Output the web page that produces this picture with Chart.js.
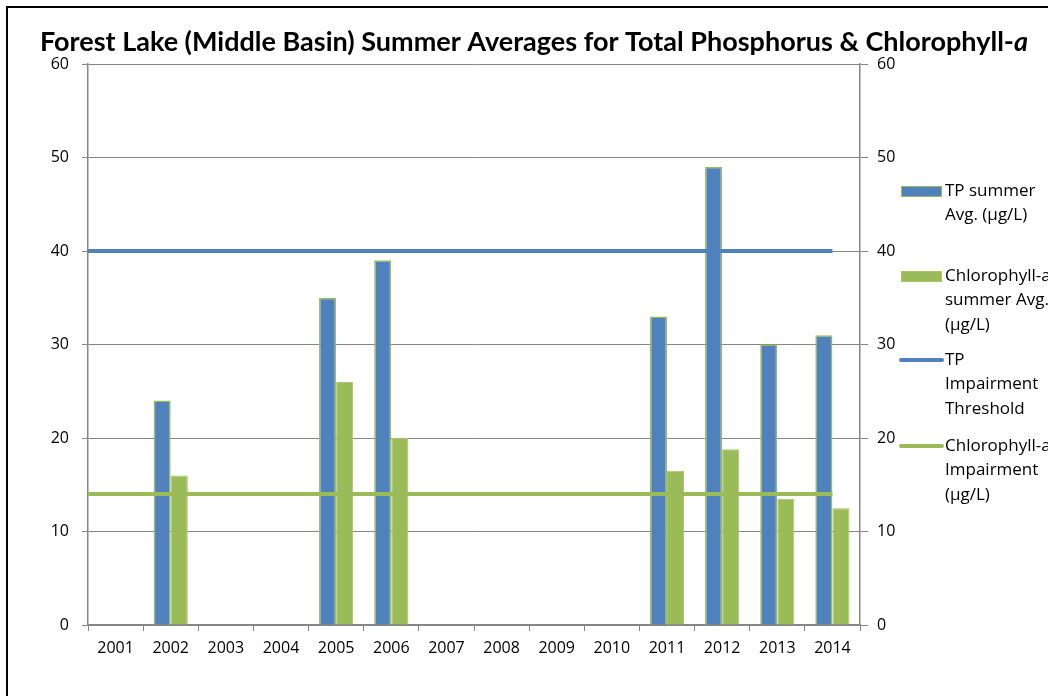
<!DOCTYPE html>
<html>
<head>
<meta charset="utf-8">
<script src="https://cdn.jsdelivr.net/npm/chart.js@4/dist/chart.umd.min.js"></script>
<style>
    html, body { margin: 0; padding: 0; background: #ffffff; }
    #wrap { width: 1048px; height: 696px; }
</style>
</head>
<body>
<div id="wrap"><canvas id="grafico" width="1048" height="696"></canvas></div>
<script>
const anos = ["2001", "2002", "2003", "2004", "2005", "2006", "2007", "2008", "2009", "2010", "2011", "2012", "2013", "2014"];
const tpMedia = [null, 24, null, null, 35, 39, null, null, null, null, 33, 49, 30, 31];
const chlMedia = [null, 16, null, null, 26, 20, null, null, null, null, 16.5, 18.8, 13.5, 12.5];
const limiteTP = 40;
const limiteChl = 14;
const eixoMin = 0;
const eixoMax = 60;
const eixoPasso = 10;

const tituloTexto = "Forest Lake (Middle Basin) Summer Averages for Total Phosphorus & Chlorophyll-";
const tituloItalico = "a";
const legendaTextos = [
    ["TP summer", "Avg. (µg/L)"],
    ["Chlorophyll-a", "summer Avg.", "(µg/L)"],
    ["TP", "Impairment", "Threshold"],
    ["Chlorophyll-a", "Impairment", "(µg/L)"]
];

const AZUL = "#4f81bd";
const VERDE = "#9bbb59";
const CINZA = "#868686";
const FONTE = "'Open Sans', sans-serif";

// linha de limite: da borda do eixo (indice -0.5) ate o centro da ultima categoria
const linhaLimite = valor => [
    { x: -0.5, y: valor },
    { x: anos.length - 1, y: valor }
];

const molduraPlugin = {
    id: "moldura",
    afterDraw(chart) {
        const { ctx, chartArea } = chart;
        ctx.save();

        // moldura preta (so esquerda e topo aparecem)
        ctx.strokeStyle = "#000000";
        ctx.lineWidth = 2;
        ctx.beginPath();
        ctx.moveTo(7, 700);
        ctx.lineTo(7, 7);
        ctx.lineTo(1050, 7);
        ctx.stroke();

        // titulo
        ctx.fillStyle = "#000000";
        ctx.textBaseline = "alphabetic";
        const fonteTitulo = "bold 27px Lato, sans-serif";
        const fonteItalico = "italic bold 27px Lato, sans-serif";
        ctx.font = fonteTitulo;
        const w1 = ctx.measureText(tituloTexto).width;
        ctx.font = fonteItalico;
        const w2 = ctx.measureText(tituloItalico).width;
        const x0 = 534 - (w1 + w2) / 2;
        ctx.font = fonteTitulo;
        ctx.fillText(tituloTexto, x0, 51);
        ctx.font = fonteItalico;
        ctx.fillText(tituloItalico, x0 + w1, 51);

        // legenda
        const itensY = [191, 276, 360, 446];
        const lx = chartArea.right + 41;
        ctx.font = "17px " + FONTE;
        ctx.textBaseline = "middle";
        chart.data.datasets.forEach((ds, i) => {
            const y = itensY[i];
            if (ds.type === "line") {
                ctx.strokeStyle = ds.borderColor;
                ctx.lineWidth = 4;
                ctx.lineCap = "round";
                ctx.beginPath();
                ctx.moveTo(lx, y);
                ctx.lineTo(lx + 41, y);
                ctx.stroke();
            } else {
                ctx.fillStyle = ds.backgroundColor;
                ctx.fillRect(lx, y - 5, 41, 11);
                ctx.strokeStyle = ds.borderColor;
                ctx.lineWidth = 1;
                ctx.strokeRect(lx + 0.5, y - 4.5, 40, 10);
            }
            ctx.fillStyle = "#000000";
            legendaTextos[i].forEach((t, k) => {
                ctx.fillText(t, lx + 44, y + k * 24.5);
            });
        });

        ctx.restore();
    }
};

new Chart(document.getElementById("grafico"), {
    type: "bar",
    data: {
        labels: anos,
        datasets: [
            {
                label: "TP summer Avg. (µg/L)",
                data: tpMedia,
                backgroundColor: AZUL,
                borderColor: VERDE,
                borderWidth: 1.5,
                order: 2
            },
            {
                label: "Chlorophyll-a summer Avg. (µg/L)",
                data: chlMedia,
                backgroundColor: VERDE,
                borderColor: "#a9c56e",
                borderWidth: 1,
                order: 2
            },
            {
                type: "line",
                label: "TP Impairment Threshold",
                data: linhaLimite(limiteTP),
                parsing: false,
                borderColor: AZUL,
                borderWidth: 4,
                pointRadius: 0,
                order: 1
            },
            {
                type: "line",
                label: "Chlorophyll-a Impairment (µg/L)",
                data: linhaLimite(limiteChl),
                parsing: false,
                borderColor: VERDE,
                borderWidth: 4,
                pointRadius: 0,
                order: 0
            }
        ]
    },
    plugins: [molduraPlugin],
    options: {
        responsive: false,
        animation: false,
        categoryPercentage: 0.62,
        barPercentage: 1,
        layout: { padding: { top: 64, left: 0, right: 0, bottom: 0 } },
        plugins: {
            legend: { display: false },
            title: { display: false },
            tooltip: { enabled: false }
        },
        scales: {
            x: {
                afterFit: s => { s.height = 71; },
                grid: {
                    offset: true,
                    drawOnChartArea: false,
                    color: CINZA,
                    tickLength: 6
                },
                border: { color: CINZA, width: 1.5 },
                ticks: {
                    color: "#000000",
                    font: { family: FONTE, size: 16 },
                    padding: 8,
                    maxRotation: 0,
                    autoSkip: false
                }
            },
            y: {
                position: "left",
                min: eixoMin,
                max: eixoMax,
                afterFit: s => { s.width = 88; },
                grid: { color: CINZA, tickLength: 6 },
                border: { color: CINZA, width: 1.5 },
                ticks: {
                    stepSize: eixoPasso,
                    color: "#000000",
                    padding: 13,
                    font: { family: FONTE, size: 16 }
                }
            },
            y2: {
                position: "right",
                min: eixoMin,
                max: eixoMax,
                afterFit: s => { s.width = 188; },
                grid: { drawOnChartArea: false, color: CINZA, tickLength: 8 },
                border: { color: CINZA, width: 1.5 },
                ticks: {
                    stepSize: eixoPasso,
                    color: "#000000",
                    padding: 9,
                    font: { family: FONTE, size: 16 }
                }
            }
        }
    }
});
</script>
</body>
</html>
